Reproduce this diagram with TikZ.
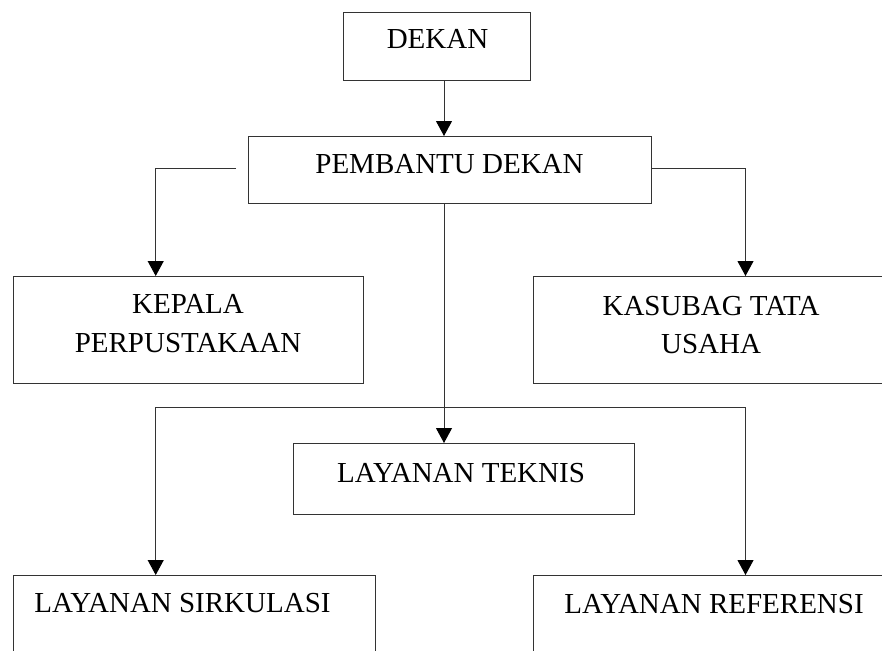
\documentclass[tikz,border=0pt]{standalone}
\usepackage{fontspec}
\setmainfont{Liberation Serif}
\usetikzlibrary{arrows.meta,calc}
\begin{document}
\begin{tikzpicture}[x=1pt,y=-1pt,
  box/.style={draw=black!80, line width=1pt, rectangle, inner sep=0pt, anchor=north west},
  txt/.style={inner sep=0pt, anchor=base, font=\fontsize{29}{35}\selectfont, text=black},
  arr/.style={draw=black!80, line width=1pt, -{Triangle[width=16pt,length=15pt,black]}},
  lin/.style={draw=black!80, line width=1pt}]
\useasboundingbox (0,0) rectangle (882,650);
\clip (0,0) rectangle (882,650);
% boxes
\node[box, minimum width=187pt, minimum height=68pt] (dekan) at (343,12) {};
\node[box, minimum width=403pt, minimum height=67pt] (pemb) at (248,136) {};
\node[box, minimum width=350pt, minimum height=107pt] (kepala) at (13,276) {};
\node[box, minimum width=356pt, minimum height=107pt] (kas) at (533,276) {};
\node[box, minimum width=341pt, minimum height=71pt] (tek) at (293,443) {};
\node[box, minimum width=362pt, minimum height=130pt] (sirk) at (13,575) {};
\node[box, minimum width=370pt, minimum height=130pt] (ref) at (533,575) {};
% texts
\node[txt] (tdekan) at (437.5,49) {DEKAN};
\node[txt] (tpemb) at (449.5,173) {PEMBANTU DEKAN};
\node[txt] (tkep1) at (188,313) {KEPALA};
\node[txt] (tkep2) at (188,352) {PERPUSTAKAAN};
\node[txt] (tkas1) at (711,315) {KASUBAG TATA};
\node[txt] (tkas2) at (711,353) {USAHA};
\node[txt] (ttek) at (461,482) {LAYANAN TEKNIS};
\node[txt] (tsirk) at (182.5,612) {LAYANAN SIRKULASI};
\node[txt] (tref) at (714,613) {LAYANAN REFERENSI};
% helper coordinates
\coordinate (cx) at (444,0);
\coordinate (lx) at (155.7,0);
\coordinate (rx) at (745.5,0);
\coordinate (pl) at ([xshift=-12pt,yshift=1.5pt]pemb.west);
\coordinate (pr) at ([yshift=1.5pt]pemb.east);
\coordinate (j) at (444,407);
% connectors
\draw[arr] (dekan.south -| cx) -- (pemb.north -| cx);
\draw[arr] (pl) -| (kepala.north -| lx);
\draw[arr] (pr) -| (kas.north -| rx);
\draw[arr] (pemb.south -| cx) -- (tek.north -| cx);
\draw[arr] (j) -| (sirk.north -| lx);
\draw[arr] (j) -| (ref.north -| rx);
\end{tikzpicture}
\end{document}
